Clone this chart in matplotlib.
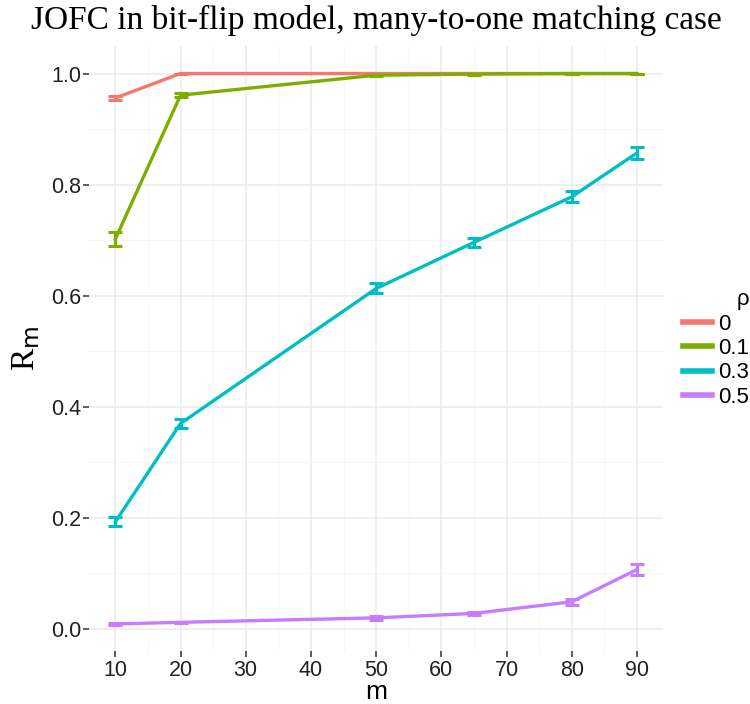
import matplotlib
matplotlib.use("Agg")
import matplotlib.pyplot as plt
from matplotlib.ticker import MultipleLocator, FormatStrFormatter
from matplotlib.lines import Line2D

m = [10, 20, 50, 65, 80, 90]
rho_labels = ["0", "0.1", "0.3", "0.5"]
colors = ["#F8766D", "#7CAE00", "#00BFC4", "#C77CFF"]

r0 = [0.956, 1.0, 1.0, 1.0, 1.0, 1.0]
r0_err = [0.004, 0.0, 0.0, 0.0, 0.0, 0.0]
r1 = [0.702, 0.961, 0.997, 0.999, 1.0, 1.0]
r1_err = [0.012, 0.004, 0.001, 0.001, 0.0, 0.0]
r3 = [0.193, 0.370, 0.613, 0.696, 0.778, 0.857]
r3_err = [0.008, 0.008, 0.009, 0.008, 0.010, 0.010]
r5 = [0.009, 0.012, 0.020, 0.028, 0.049, 0.107]
r5_err = [0.001, 0.001, 0.003, 0.002, 0.005, 0.010]

series = [(r0, r0_err), (r1, r1_err), (r3, r3_err), (r5, r5_err)]

fig = plt.figure(figsize=(7.5, 7.04), dpi=100)
ax = fig.add_axes([0.119, 0.075, 0.765, 0.860])

for (vals, errs), col in zip(series, colors):
    ax.errorbar(m, vals, yerr=errs, color=col, lw=2.4, elinewidth=2.2,
                capsize=5, capthick=2.2)

ax.set_xlim(6, 94)
ax.set_ylim(-0.04, 1.05)
ax.xaxis.set_major_locator(MultipleLocator(10))
ax.xaxis.set_minor_locator(MultipleLocator(5))
ax.yaxis.set_major_locator(MultipleLocator(0.2))
ax.yaxis.set_minor_locator(MultipleLocator(0.1))
ax.yaxis.set_major_formatter(FormatStrFormatter("%.1f"))

ax.grid(which="major", color="#EBEBEB", lw=1.1)
ax.grid(which="minor", color="#F5F5F5", lw=0.6)
ax.set_axisbelow(True)
for s in ax.spines.values():
    s.set_visible(False)
ax.tick_params(which="major", length=4, width=1.1, color="#333333",
               labelsize=15.5, labelcolor="#222222", pad=2)
ax.tick_params(which="minor", length=0)
for t in ax.get_xticklabels() + ax.get_yticklabels():
    t.set_fontfamily("Liberation Sans")

# x label sits right at the bottom edge, as in the original
fig.text(0.119 + 0.765 / 2, 0.0, "m", fontsize=19, family="Liberation Sans",
         ha="center", va="bottom")
ax.set_ylabel(r"R$_{\rm m}$", fontsize=24, family="Liberation Serif", labelpad=6)
ax.set_title("JOFC in bit-flip model, many-to-one matching case",
             fontsize=24, family="Liberation Serif", pad=12)

handles = [Line2D([], [], color=c, lw=4) for c in colors]
leg = ax.legend(handles, rho_labels, title="ρ", loc="center left",
                bbox_to_anchor=(1.0, 0.5), frameon=False, handlelength=1.3,
                handletextpad=0.3, labelspacing=0.15,
                prop={"family": "Liberation Sans", "size": 16})
leg.get_title().set_fontsize(16)
leg.get_title().set_fontfamily("Liberation Sans")
leg._legend_box.align = "right"

fig.savefig("out.png", dpi=100)
